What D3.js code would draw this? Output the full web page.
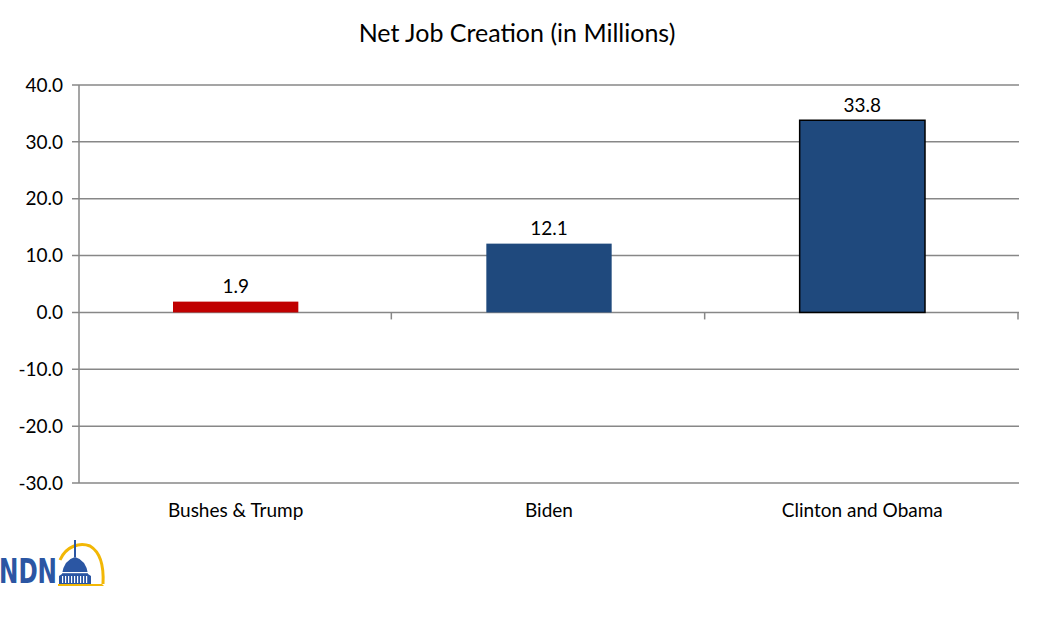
<!DOCTYPE html>
<html>
<head>
<meta charset="utf-8">
<script src="https://cdn.jsdelivr.net/npm/d3@7"></script>
<style>
  body { margin: 0; background: #fff; }
  text { font-family: Lato, "Open Sans", sans-serif; fill: #000; }
</style>
</head>
<body>
<div id="chart"></div>
<script>
const categories = ["Bushes & Trump", "Biden", "Clinton and Obama"];
const values = [1.9, 12.1, 33.8];
const barColors = ["#c00000", "#1f497d", "#1f497d"];
const barStrokes = ["none", "none", "#000"];
const yTicks = [-30, -20, -10, 0, 10, 20, 30, 40];

const width = 1044;
const height = 626;
const margin = { top: 85, right: 25, bottom: 143, left: 79 };
const fmt = (d) => d3.format(".1f")(d).replace("\u2212", "-");

const svg = d3.select("#chart")
  .append("svg")
  .attr("width", width)
  .attr("height", height);

const x = d3.scaleBand()
  .domain(categories)
  .range([margin.left, width - margin.right])
  .paddingInner(0.6)
  .paddingOuter(0.3);

const y = d3.scaleLinear()
  .domain([-30, 40])
  .range([height - margin.bottom, margin.top]);

// gridlines
svg.append("g")
  .selectAll("line")
  .data(yTicks)
  .join("line")
  .attr("x1", margin.left - 7)
  .attr("x2", width - margin.right)
  .attr("y1", (d) => y(d))
  .attr("y2", (d) => y(d))
  .attr("stroke", "#878787")
  .attr("stroke-width", 1.5);

// y axis line
svg.append("line")
  .attr("x1", margin.left)
  .attr("x2", margin.left)
  .attr("y1", y(40))
  .attr("y2", y(-30))
  .attr("stroke", "#878787")
  .attr("stroke-width", 1.5);

// y labels
svg.append("g")
  .selectAll("text")
  .data(yTicks)
  .join("text")
  .attr("x", margin.left - 16)
  .attr("y", (d) => y(d))
  .attr("dy", "0.35em")
  .attr("text-anchor", "end")
  .attr("font-size", 19)
  .text(fmt);

// category ticks along zero line
const bounds = d3.range(categories.length + 1).map((i) => margin.left + i * (width - margin.left - margin.right) / categories.length);
svg.append("g")
  .selectAll("line")
  .data(bounds.slice(1))
  .join("line")
  .attr("x1", (d) => d - 1)
  .attr("x2", (d) => d - 1)
  .attr("y1", y(0))
  .attr("y2", y(0) + 7)
  .attr("stroke", "#878787")
  .attr("stroke-width", 1.5);

// bars
svg.append("g")
  .selectAll("rect")
  .data(values)
  .join("rect")
  .attr("x", (d, i) => x(categories[i]))
  .attr("width", x.bandwidth())
  .attr("y", (d) => y(Math.max(0, d)))
  .attr("height", (d) => Math.abs(y(d) - y(0)))
  .attr("fill", (d, i) => barColors[i])
  .attr("stroke", (d, i) => barStrokes[i])
  .attr("stroke-width", 1.5);

// value labels
svg.append("g")
  .selectAll("text")
  .data(values)
  .join("text")
  .attr("x", (d, i) => x(categories[i]) + x.bandwidth() / 2)
  .attr("y", (d) => y(d) - 15)
  .attr("dy", "0.35em")
  .attr("text-anchor", "middle")
  .attr("font-size", 19)
  .text(fmt);

// category labels
svg.append("g")
  .selectAll("text")
  .data(categories)
  .join("text")
  .attr("x", (d) => x(d) + x.bandwidth() / 2)
  .attr("y", y(-30) + 27)
  .attr("dy", "0.35em")
  .attr("text-anchor", "middle")
  .attr("font-size", 19)
  .text((d) => d);

// title
svg.append("text")
  .attr("x", 517)
  .attr("y", 33)
  .attr("dy", "0.35em")
  .attr("text-anchor", "middle")
  .attr("font-size", 25)
  .text("Net Job Creation (in Millions)");

// NDN logo (simplified)
const logo = svg.append("g").attr("transform", "translate(0, 540)");
logo.append("path")
  .attr("d", "M60,20 C66,6 80,2 90,6 C100,12 104,26 103,44")
  .attr("fill", "none")
  .attr("stroke", "#f2b705")
  .attr("stroke-width", 3);
logo.append("path")
  .attr("d", "M58,44 L102,44 L104,46 L58,46 Z")
  .attr("fill", "#f2b705");
logo.append("path")
  .attr("d", "M59,44 L59,36 L62,34 Q64,20 75,17 Q86,20 88,34 L91,36 L91,44 Z")
  .attr("fill", "#2b56a3");
logo.append("rect").attr("x", 74).attr("y", 0).attr("width", 2).attr("height", 17).attr("fill", "#2b56a3");
logo.append("rect").attr("x", 62).attr("y", 32).attr("width", 26).attr("height", 1.2).attr("fill", "#fff");
logo.selectAll(".col")
  .data(d3.range(9))
  .join("rect")
  .attr("class", "col")
  .attr("x", (d) => 62 + d * 3)
  .attr("y", 36)
  .attr("width", 1.2)
  .attr("height", 7)
  .attr("fill", "#fff");
logo.append("text")
  .attr("x", -1)
  .attr("y", 43)
  .attr("font-size", 34)
  .attr("font-weight", 700)
  .attr("textLength", 58)
  .attr("lengthAdjust", "spacingAndGlyphs")
  .style("fill", "#2b56a3")
  .style("font-family", "'Liberation Sans Narrow', 'DejaVu Sans Condensed', sans-serif")
  .text("NDN");
</script>
</body>
</html>
